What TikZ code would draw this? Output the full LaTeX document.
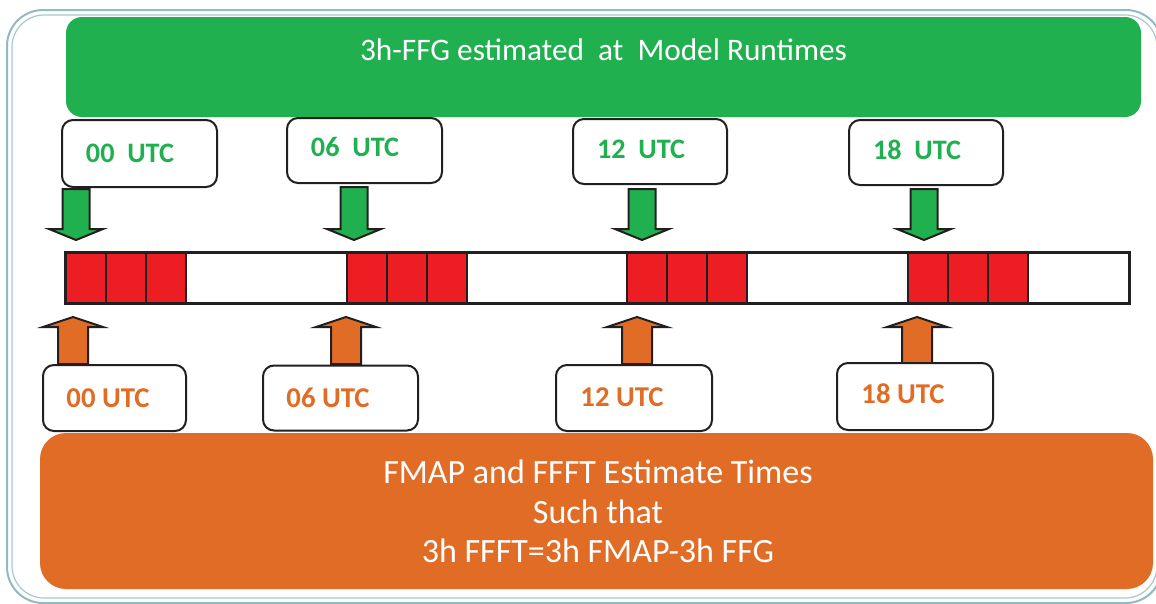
\documentclass[tikz,border=0pt]{standalone}
\usepackage{fontspec}
\setmainfont{Carlito}
\definecolor{fgreen}{RGB}{33,176,80}
\definecolor{forange}{RGB}{225,108,37}
\definecolor{fred}{RGB}{237,29,36}
\definecolor{fframe}{RGB}{146,186,194}
\definecolor{ink}{RGB}{35,31,32}
\tikzset{
  banner/.style={rounded corners=16pt, inner sep=0pt},
  bannertext/.style={text=white, anchor=base, inner sep=0pt, font=\fontsize{31.3}{37}\selectfont},
  bottomtext/.style={text=white, anchor=base, inner sep=0pt, font=\fontsize{34}{40}\selectfont},
  labelbox/.style={draw=ink, line width=2pt, fill=white, rounded corners=11pt, inner sep=0pt},
  glabel/.style={text=fgreen, anchor=base, inner sep=0pt, font=\fontsize{28.2}{33}\selectfont\bfseries},
  olabel/.style={text=forange, anchor=base, inner sep=0pt, font=\fontsize{28.7}{33}\selectfont\bfseries},
  cell/.style={draw=ink, line width=2pt, fill=fred},
  bar/.style={draw=ink, line width=2pt, fill=white},
  garrow/.style={draw=ink, line width=2pt, fill=fgreen, line join=miter},
  oarrow/.style={draw=ink, line width=2pt, fill=forange, line join=miter},
}
\begin{document}
\begin{tikzpicture}[x=1pt,y=-1pt]
\useasboundingbox (0,0) rectangle (1156,603);
\fill[white] (0,0) rectangle (1156,603);
\begin{scope}
\clip (0,0) rectangle (1156,603);
\draw[fframe, line width=2pt, rounded corners=36pt] (7,10) rectangle (1162,603);
\draw[fframe!80, line width=1.2pt, rounded corners=32pt] (12,15) rectangle (1157,598);
\end{scope}
% top banner
\node[banner, fill=fgreen, minimum width=1075pt, minimum height=100pt] (topbanner) at (603.5,67) {};
\node[bannertext] (toptext) at (603.5,60) {3h-FFG estimated\ \ at\ \ Model Runtimes};
% green label boxes
\node[labelbox, minimum width=155pt, minimum height=67pt] (g0) at (139.5,153.5) {};
\node[labelbox, minimum width=155pt, minimum height=65pt] (g6) at (364.5,150.5) {};
\node[labelbox, minimum width=154pt, minimum height=65pt] (g12) at (650,151.5) {};
\node[labelbox, minimum width=154pt, minimum height=65pt] (g18) at (926,152.5) {};
\node[glabel] (g0t) at (130,162) {00\ \ UTC};
\node[glabel] (g6t) at (355,156) {06\ \ UTC};
\node[glabel] (g12t) at (641,158) {12\ \ UTC};
\node[glabel] (g18t) at (917,159) {18\ \ UTC};
% green down arrows
\foreach \cx/\ty in {76/189,354/187,642/189,924/189}{
  \draw[garrow] (\cx-13.5,\ty) -- (\cx+13.5,\ty) -- (\cx+13.5,229) -- (\cx+27,229) -- (\cx,240) -- (\cx-27,229) -- (\cx-13.5,229) -- cycle;
}
% timeline bar
\node[bar, minimum width=1063pt, minimum height=50pt, inner sep=0pt] (bar) at (597.5,278) {};
\foreach \x in {66,347,627,908}{
  \foreach \k in {0,1,2}{
    \draw[cell] (\x+40*\k,253) rectangle (\x+40*\k+40,303);
  }
}
\draw[ink, line width=2pt] (bar.north west) rectangle (bar.south east);
% orange up arrows
\foreach \cx in {73,346,637,917}{
  \draw[oarrow] (\cx-15,364) -- (\cx-15,327) -- (\cx-30,327) -- (\cx,317) -- (\cx+30,327) -- (\cx+15,327) -- (\cx+15,364) -- cycle;
}
% orange label boxes
\node[labelbox, minimum width=143pt, minimum height=66pt] (o0) at (114.5,398) {};
\node[labelbox, minimum width=155pt, minimum height=65pt] (o6) at (340.5,398) {};
\node[labelbox, minimum width=156pt, minimum height=66pt] (o12) at (634,398) {};
\node[labelbox, minimum width=156pt, minimum height=67pt] (o18) at (915,396.5) {};
\node[olabel] (o0t) at (108,407) {00 UTC};
\node[olabel] (o6t) at (328,407) {06 UTC};
\node[olabel] (o12t) at (622,406) {12 UTC};
\node[olabel] (o18t) at (903,403) {18 UTC};
% bottom banner
\node[banner, fill=forange, rounded corners=26pt, minimum width=1113pt, minimum height=156pt] (botbanner) at (596.5,511) {};
\node[bottomtext] (b1) at (598,483) {FMAP and FFFT Estimate Times};
\node[bottomtext] (b2) at (598,523) {Such that};
\node[bottomtext] (b3) at (598,562) {3h FFFT=3h FMAP-3h FFG};
\end{tikzpicture}
\end{document}
